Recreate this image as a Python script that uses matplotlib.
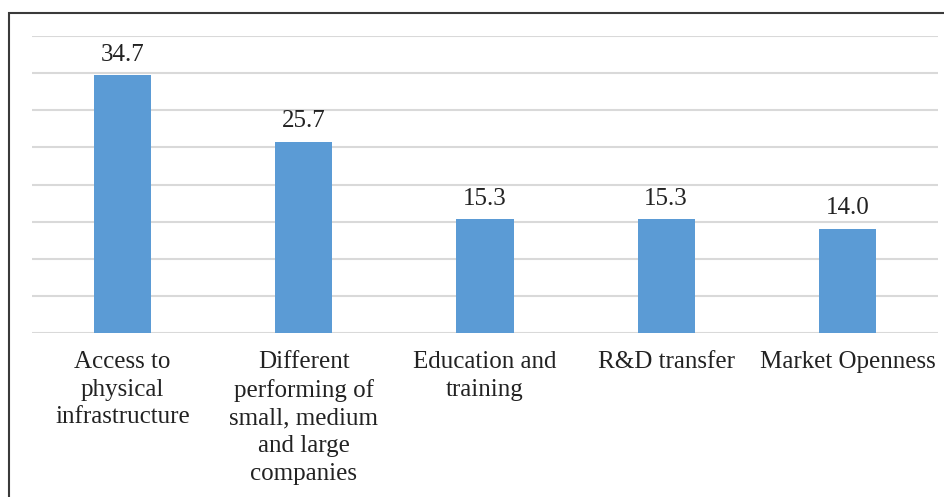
import matplotlib.pyplot as plt
from matplotlib.patches import Rectangle

categories = [
    "Access to\nphysical\ninfrastructure",
    "Different\nperforming of\nsmall, medium\nand large\ncompanies",
    "Education and\ntraining",
    "R&D transfer",
    "Market Openness",
]
values = [34.7, 25.7, 15.3, 15.3, 14.0]

plt.rcParams['font.family'] = ['Liberation Serif', 'DejaVu Serif']

fig = plt.figure(figsize=(9.44, 4.97), dpi=100)
ax = fig.add_axes([32 / 944, 1 - 333 / 497, 906 / 944, 297 / 497])

x = range(len(values))
bars = ax.bar(x, values, width=0.315, color='#5B9BD5', zorder=3)
for b, v in zip(bars, values):
    ax.annotate(f"{v:.1f}", (b.get_x() + b.get_width() / 2, v),
                xytext=(0, 7), textcoords='offset points',
                ha='center', va='bottom', fontsize=18, color='#222222')

ax.set_xlim(-0.5, len(values) - 0.5)
ax.set_ylim(0, 40)
ax.set_yticks(range(0, 41, 5))
ax.set_yticklabels([])
ax.set_xticks(list(x))
ax.set_xticklabels(categories, fontsize=18, color='#222222', linespacing=1.33, va='top')
ax.tick_params(axis='both', length=0)
ax.tick_params(axis='x', pad=13)
ax.grid(axis='y', color='#D9D9D9', linewidth=1.5, zorder=0)
for s in ax.spines.values():
    s.set_visible(False)

# frame around the figure (left and top edges inside the image)
fig.patches.append(Rectangle((9 / 944, -0.1), 1.2, 1 - 13 / 497 + 0.1,
                             transform=fig.transFigure, fill=False,
                             edgecolor='#3a3a3a', linewidth=1.5))

fig.savefig('out.png', dpi=100)
